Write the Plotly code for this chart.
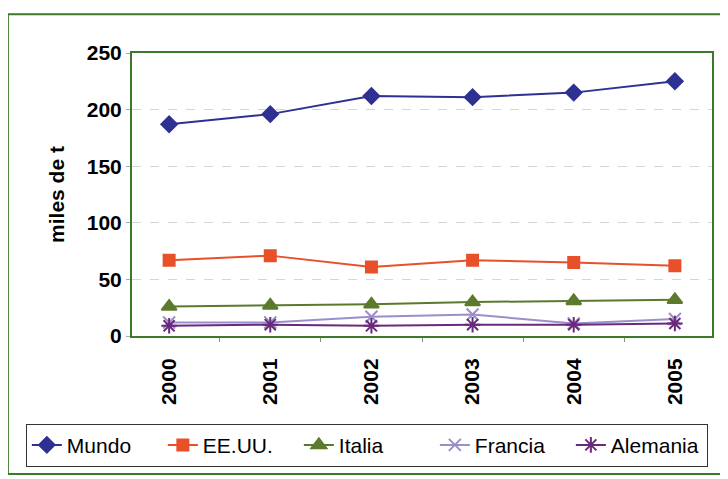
import plotly.graph_objects as go

years = ["2000", "2001", "2002", "2003", "2004", "2005"]
mundo = [187, 196, 212, 211, 215, 225]
eeuu = [67, 71, 61, 67, 65, 62]
italia = [26, 27, 28, 30, 31, 32]
francia = [12, 12, 17, 19, 11, 15]
alemania = [9, 10, 9, 10, 10, 11]

series = [
    ("Mundo", mundo, "#2E3192", "diamond", 12),
    ("EE.UU.", eeuu, "#E8502A", "square", 11),
    ("Italia", italia, "#5C7A2C", "triangle-up", 13),
    ("Francia", francia, "#9B8FCB", "x-thin", 12),
    ("Alemania", alemania, "#6A2A7C", "asterisk", 13),
]

FONT = "Liberation Sans, Arial, sans-serif"

fig = go.Figure()
for name, vals, color, sym, size in series:
    fig.add_trace(go.Scatter(
        x=years, y=vals, name=name, mode="lines+markers",
        line=dict(color=color, width=2),
        marker=dict(symbol=sym, size=size, color=color,
                    line=dict(color=color, width=2)),
    ))

fig.update_layout(
    width=720, height=471,
    margin=dict(l=124, r=16, t=45, b=141),
    paper_bgcolor="white", plot_bgcolor="white",
    font=dict(family=FONT, color="black"),
    showlegend=True,
    legend=dict(orientation="h", x=-0.183, xanchor="left",
                y=-0.31, yanchor="top",
                bordercolor="#333333", borderwidth=1,
                font=dict(size=21, family=FONT),
                itemwidth=30, entrywidth=91, tracegroupgap=0),
    xaxis=dict(type="category", showgrid=False, tickangle=-90,
               tickfont=dict(size=21, family=FONT, weight="bold"),
               ticks="outside", ticklen=4, tickcolor="#7a9a6a",
               ticklabelstandoff=12,
               showline=True, linecolor="#3A7A2A", linewidth=2, mirror=True,
               tickson="boundaries"),
    yaxis=dict(range=[0, 250], dtick=50, showgrid=True,
               gridcolor="#D0D8D4", griddash="dash", gridwidth=1,
               tickfont=dict(size=21, family=FONT, weight="bold"),
               ticks="outside", ticklen=4, tickcolor="#aaaaaa",
               showline=True, linecolor="#3A7A2A", linewidth=2, mirror=True,
               zeroline=False,
               title=dict(text="miles de t", standoff=16,
                          font=dict(size=21, family=FONT, weight="bold"))),
    shapes=[dict(type="rect", xref="paper", yref="paper",
                 x0=-0.214, x1=1.024, y0=-0.488, y1=1.137,
                 line=dict(color="#3A7A2A", width=2), layer="below")],
)

fig.write_html("out.html")
